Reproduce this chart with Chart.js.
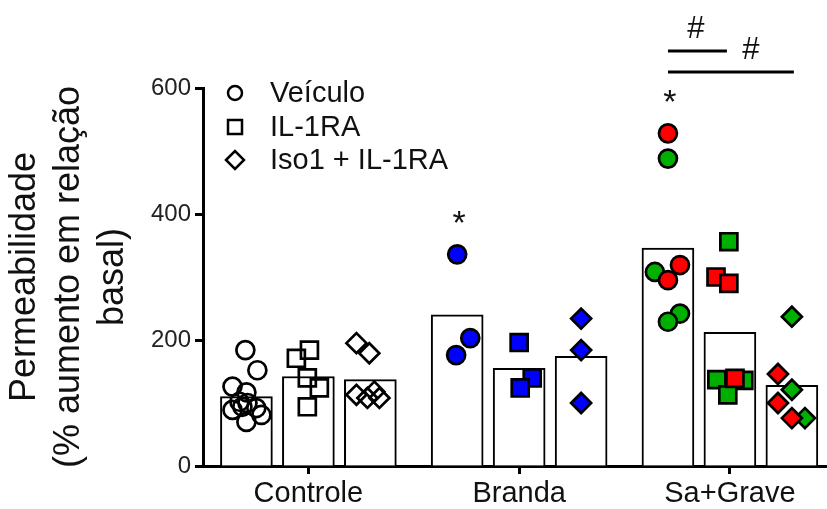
<!DOCTYPE html>
<html>
<head>
<meta charset="utf-8">
<script src="https://cdn.jsdelivr.net/npm/chart.js@4.4.1/dist/chart.umd.min.js"></script>
<style>
  body { margin: 0; background: #fff; }
  #wrap { width: 827px; height: 509px; overflow: hidden; }
</style>
</head>
<body>
<div id="wrap"><canvas id="myChart" width="850" height="509"></canvas></div>
<script>
const categories = ['Controle', 'Branda', 'Sa+Grave'];
const seriesNames = ['Veículo', 'IL-1RA', 'Iso1 + IL-1RA'];

// bar heights (group means)
const veiculoMean = [110, 240, 346];
const il1raMean = [142, 155, 212];
const isoMean = [137, 174, 128];

// individual values, with horizontal jitter (fraction of a category width)
const ctrlVeiculo = [184, 152, 126, 117, 102, 100, 94, 92, 89, 81, 70];
const ctrlVeiculoJit = [-0.005, 0.052, -0.066, 0, -0.033, 0.005, -0.019, 0.047, -0.066, 0.071, 0];
const ctrlIl1ra = [184, 171, 140, 124, 94];
const ctrlIl1raJit = [0.005, -0.057, -0.005, 0.052, -0.005];
const ctrlIso = [195, 179, 118, 113, 108, 108];
const ctrlIsoJit = [-0.066, -0.005, 0.019, -0.066, -0.014, 0.043];

const brandaVeiculo = [336, 203, 176];
const brandaVeiculoJit = [0, 0.062, -0.005];
const brandaIl1ra = [196, 140, 124];
const brandaIl1raJit = [0, 0.062, 0.005];
const brandaIso = [234, 184, 100];
const brandaIsoJit = [0, 0, 0];

const graveVeiculoGreen = [488, 308, 242, 229];
const graveVeiculoGreenJit = [0, -0.062, 0.057, 0];
const graveVeiculoRed = [528, 319, 295];
const graveVeiculoRedJit = [0, 0.057, 0];
const graveIl1raGreen = [356, 137, 136, 113];
const graveIl1raGreenJit = [-0.005, -0.062, 0.066, -0.01];
const graveIl1raRed = [300, 290, 139];
const graveIl1raRedJit = [-0.066, -0.005, 0.024];
const graveIsoGreen = [237, 121, 76];
const graveIsoGreenJit = [0, 0, 0.062];
const graveIsoRed = [146, 100, 76];
const graveIsoRedJit = [-0.066, -0.066, 0];

const barStep = 0.294;   // distance between bars of one group, in category units
const barWidth = 52;
const shapes = ['circle', 'rect', 'rectRot'];
const radii = [9, 12, 10];
const FONT = "'Liberation Sans', Arial, sans-serif";

Chart.defaults.font.family = FONT;
Chart.defaults.color = '#000';

const slot = (group, series) => group + (series - 1) * barStep;

function scatterSet(group, series, values, jitter, fill) {
  return {
    type: 'scatter',
    data: values.map((v, i) => ({ x: slot(group, series) + jitter[i], y: v })),
    pointStyle: shapes[series],
    pointRadius: radii[series],
    pointBackgroundColor: fill,
    pointBorderColor: '#000',
    pointBorderWidth: 2.7
  };
}

const barSets = [veiculoMean, il1raMean, isoMean].map((vals, s) => ({
  label: seriesNames[s],
  data: vals.map((v, g) => ({ x: slot(g, s), y: v })),
  backgroundColor: '#fff',
  borderColor: '#000',
  borderWidth: 2,
  grouped: false,
  barThickness: barWidth,
  order: 2
}));

const none = 'rgba(0,0,0,0)';
const blue = '#0000ff';
const green = '#00b000';
const red = '#ff0000';

const pointSets = [
  scatterSet(0, 0, ctrlVeiculo, ctrlVeiculoJit, none),
  scatterSet(0, 1, ctrlIl1ra, ctrlIl1raJit, none),
  scatterSet(0, 2, ctrlIso, ctrlIsoJit, none),
  scatterSet(1, 0, brandaVeiculo, brandaVeiculoJit, blue),
  scatterSet(1, 1, brandaIl1ra, brandaIl1raJit, blue),
  scatterSet(1, 2, brandaIso, brandaIsoJit, blue),
  scatterSet(2, 0, graveVeiculoGreen, graveVeiculoGreenJit, green),
  scatterSet(2, 0, graveVeiculoRed, graveVeiculoRedJit, red),
  scatterSet(2, 1, graveIl1raGreen, graveIl1raGreenJit, green),
  scatterSet(2, 1, graveIl1raRed, graveIl1raRedJit, red),
  scatterSet(2, 2, graveIsoGreen, graveIsoGreenJit, green),
  scatterSet(2, 2, graveIsoRed, graveIsoRedJit, red)
];
// later entries sit on top
pointSets.forEach((d, i) => { d.order = 1 - i / 100; });

// legend block and significance marks
const extras = {
  id: 'extras',
  afterDatasetsDraw(chart) {
    const { ctx, chartArea, scales } = chart;
    const x = scales.x, y = scales.y;
    ctx.save();

    // legend
    const lx = chartArea.left + 32;
    const rows = [chartArea.top + 5, chartArea.top + 39, chartArea.top + 72];
    ctx.lineWidth = 2.5;
    ctx.strokeStyle = '#000';
    rows.forEach((ry, i) => {
      ctx.beginPath();
      if (i === 0) ctx.arc(lx, ry, 7, 0, Math.PI * 2);
      else if (i === 1) ctx.rect(lx - 7, ry - 7, 14, 14);
      else { ctx.moveTo(lx - 9, ry); ctx.lineTo(lx, ry - 9); ctx.lineTo(lx + 9, ry); ctx.lineTo(lx, ry + 9); ctx.closePath(); }
      ctx.stroke();
    });
    ctx.fillStyle = '#111';
    ctx.font = '29px ' + FONT;
    ctx.textBaseline = 'middle';
    ctx.textAlign = 'left';
    rows.forEach((ry, i) => ctx.fillText(seriesNames[i], lx + 35, ry + 1));

    // asterisks over the vehicle groups
    const star = (g, top) => {
      ctx.font = '34px ' + FONT;
      ctx.textAlign = 'center';
      ctx.fillText('*', x.getPixelForValue(slot(g, 0)) + 2, y.getPixelForValue(top) - 30);
    };
    star(1, Math.max(...brandaVeiculo));
    star(2, Math.max(...graveVeiculoRed, ...graveVeiculoGreen));

    // comparison brackets in Sa+Grave
    const v = x.getPixelForValue(slot(2, 0));
    const il = x.getPixelForValue(slot(2, 1));
    const iso = x.getPixelForValue(slot(2, 2));
    ctx.lineWidth = 3;
    ctx.beginPath();
    ctx.moveTo(v, 51); ctx.lineTo(il - 3, 51);
    ctx.moveTo(v, 72); ctx.lineTo(iso + 2, 72);
    ctx.stroke();
    ctx.font = '31px ' + FONT;
    ctx.fillText('#', (v + il) / 2 - 3, 29);
    ctx.fillText('#', il + 21, 50);
    ctx.restore();
  }
};

const ctx = document.getElementById('myChart').getContext('2d');
const chart = new Chart(ctx, {
  type: 'bar',
  data: {
    datasets: [...barSets, ...pointSets]
  },
  options: {
    responsive: false,
    animation: false,
    events: [],
    layout: { padding: { top: 88, right: 13.5, bottom: 0, left: 0 } },
    plugins: {
      legend: { display: false },
      tooltip: { enabled: false }
    },
    scales: {
      x: {
        type: 'linear',
        offset: false,
        min: -0.5,
        max: 2.5,
        afterBuildTicks: s => { s.ticks = categories.map((c, i) => ({ value: i })); },
        grid: { offset: false, drawOnChartArea: false, tickLength: 8, tickWidth: 3, tickColor: '#000' },
        border: { color: '#000', width: 3 },
        ticks: { font: { size: 29 }, color: '#111', padding: 3, callback: v => categories[v] },
        afterFit: s => { s.height = 43; }
      },
      y: {
        min: 0,
        max: 600,
        ticks: { stepSize: 200, font: { size: 24 }, color: '#222', padding: 4 },
        grid: { drawOnChartArea: false, tickLength: 8, tickWidth: 3, tickColor: '#000' },
        border: { color: '#000', width: 3 },
        title: {
          display: true,
          text: ['Permeabilidade', '(% aumento em relação', 'basal)'],
          font: { size: 36, lineHeight: 1.22 },
          color: '#111',
          padding: { top: 3, bottom: 0 }
        },
        afterFit: s => { s.width = 203; }
      }
    }
  },
  plugins: [extras]
});
</script>
</body>
</html>
